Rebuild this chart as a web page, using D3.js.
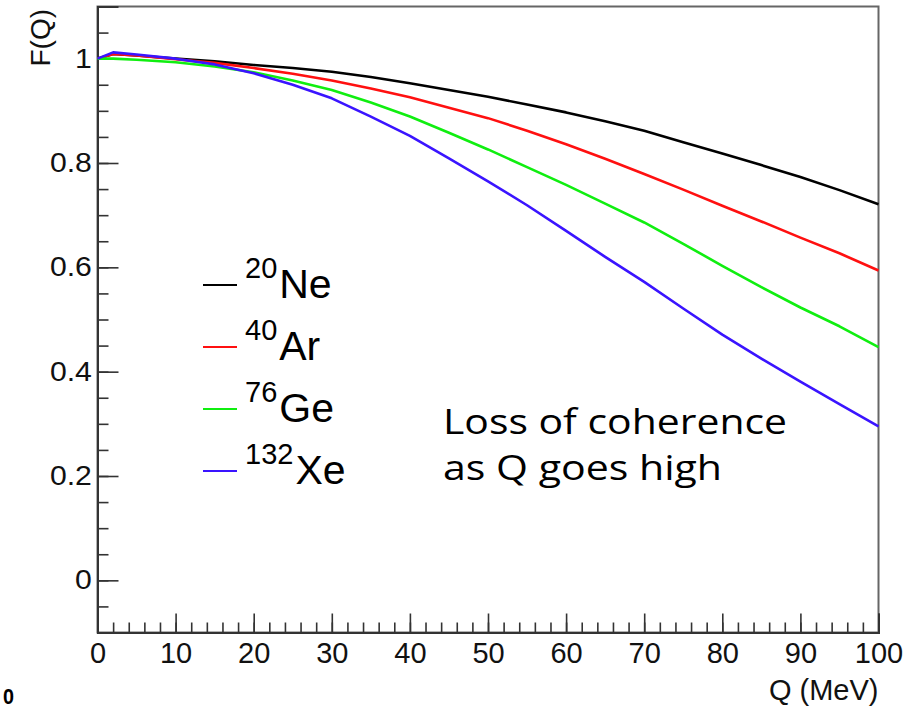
<!DOCTYPE html>
<html>
<head>
<meta charset="utf-8">
<script src="https://cdn.jsdelivr.net/npm/d3@7"></script>
<style>
  body { margin: 0; background: #fff; }
  svg { display: block; }
</style>
</head>
<body>
<div id="chart_div"></div>
<script>
// Form factor F(Q) vs momentum transfer Q
var qValues = [0, 2, 5, 10, 15, 20, 25, 30, 35, 40, 45, 50, 55, 60, 65, 70, 75, 80, 85, 90, 95, 100];
var neValues = [1.0, 1.009, 1.006, 1.0, 0.995, 0.988, 0.982, 0.975, 0.965, 0.953, 0.940, 0.927, 0.912, 0.897, 0.880, 0.862, 0.840, 0.818, 0.796, 0.773, 0.748, 0.721];
var arValues = [1.0, 1.009, 1.006, 0.999, 0.992, 0.982, 0.971, 0.958, 0.943, 0.926, 0.906, 0.886, 0.862, 0.836, 0.808, 0.779, 0.749, 0.718, 0.688, 0.657, 0.627, 0.594];
var geValues = [1.0, 1.0, 0.998, 0.993, 0.985, 0.974, 0.958, 0.940, 0.916, 0.889, 0.858, 0.826, 0.792, 0.758, 0.722, 0.686, 0.645, 0.603, 0.562, 0.523, 0.487, 0.447];
var xeValues = [1.0, 1.012, 1.008, 1.0, 0.989, 0.972, 0.950, 0.924, 0.889, 0.852, 0.809, 0.765, 0.719, 0.670, 0.620, 0.572, 0.521, 0.471, 0.425, 0.381, 0.338, 0.295];

var massNumbers = ["20", "40", "76", "132"];
var elements = ["Ne", "Ar", "Ge", "Xe"];
var colors = ["#000000", "#ff1010", "#10ee10", "#3a14ff"];

var xTicks = [0, 10, 20, 30, 40, 50, 60, 70, 80, 90, 100];
var yTicks = [0, 0.2, 0.4, 0.6, 0.8, 1];

var noteLines = ["Loss of coherence", "as Q goes high"];

var width = 924, height = 712;
var frame = {left: 97.5, right: 878.5, top: 6.5, bottom: 632.5};
const FONT = "'Liberation Sans', Arial, Helvetica, sans-serif";

var svg = d3.select("#chart_div").append("svg")
    .attr("width", width)
    .attr("height", height);

var x = d3.scaleLinear().domain([0, 100]).range([frame.left, frame.right]);
var y = d3.scaleLinear().domain([-0.1, 1.1]).range([frame.bottom, frame.top]);

// frame
svg.append("rect")
    .attr("x", frame.left)
    .attr("y", frame.top)
    .attr("width", frame.right - frame.left)
    .attr("height", frame.bottom - frame.top)
    .style("fill", "none")
    .style("stroke", "#666")
    .style("stroke-width", 2);

// minor ticks (ROOT style, pointing inward)
svg.append("g")
    .attr("transform", "translate(" + frame.left + ",0)")
    .call(d3.axisLeft(y).tickValues(d3.range(-0.05, 1.1, 0.05)).tickSize(-11).tickFormat(""))
    .call(g => g.select(".domain").remove())
    .selectAll("line").style("stroke", "#333").style("stroke-width", 1.6);

svg.append("g")
    .attr("transform", "translate(0," + frame.bottom + ")")
    .call(d3.axisBottom(x).tickValues(d3.range(2, 100, 2)).tickSize(-10).tickFormat(""))
    .call(g => g.select(".domain").remove())
    .selectAll("line").style("stroke", "#333").style("stroke-width", 1.6);

// major ticks + labels
var yAxis = svg.append("g")
    .attr("transform", "translate(" + frame.left + ",0)")
    .call(d3.axisLeft(y).tickValues(yTicks).tickSize(-21).tickPadding(5)
        .tickFormat(d => d === 0 || d === 1 ? d3.format("d")(d) : d3.format(".1f")(d)));
yAxis.select(".domain").style("stroke", "#333").style("stroke-width", 2);
yAxis.selectAll("line").style("stroke", "#333").style("stroke-width", 1.6);
yAxis.selectAll("text")
    .style("font-family", FONT)
    .style("font-size", "27px")
    .style("fill", "#111")
    .attr("transform", "scale(1.12,1)");

var xAxis = svg.append("g")
    .attr("transform", "translate(0," + frame.bottom + ")")
    .call(d3.axisBottom(x).tickValues(xTicks).tickSize(-19).tickPadding(10));
xAxis.select(".domain").style("stroke", "#333").style("stroke-width", 2);
xAxis.selectAll("line").style("stroke", "#333").style("stroke-width", 1.6);
xAxis.selectAll("text")
    .style("font-family", FONT)
    .style("font-size", "29px")
    .style("fill", "#111");

// axis titles
svg.append("text")
    .attr("x", frame.right)
    .attr("y", 700)
    .attr("text-anchor", "end")
    .style("font-family", FONT)
    .style("font-size", "29px")
    .style("fill", "#111")
    .text("Q (MeV)");

svg.append("g")
    .attr("transform", "translate(50,9)")
    .append("text")
    .attr("transform", "rotate(-90)")
    .attr("text-anchor", "end")
    .style("font-family", FONT)
    .style("font-size", "28px")
    .style("fill", "#111")
    .text("F(Q)");

// curves
var series = [neValues, arValues, geValues, xeValues];
var line = d3.line()
    .x((d, i) => x(qValues[i]))
    .y(d => y(d));

svg.append("g").selectAll("path")
    .data(series)
    .enter()
    .append("path")
    .attr("d", d => line(d))
    .style("fill", "none")
    .style("stroke", (d, i) => colors[i])
    .style("stroke-width", 2.6)
    .style("stroke-linejoin", "round");

// legend
var legend = svg.append("g").selectAll("g")
    .data(elements)
    .enter()
    .append("g")
    .attr("transform", (d, i) => "translate(0," + (298 + i * 62) + ")");

legend.append("line")
    .attr("x1", 203)
    .attr("x2", 237)
    .attr("y1", -13)
    .attr("y2", -13)
    .style("stroke", (d, i) => colors[i])
    .style("stroke-width", 2.2);

var legendText = legend.append("text")
    .attr("x", 245)
    .attr("y", 0)
    .style("font-family", FONT)
    .style("fill", "#000");
legendText.append("tspan")
    .attr("dy", -20)
    .style("font-size", "29px")
    .text((d, i) => massNumbers[i]);
legendText.append("tspan")
    .attr("dy", 20)
    .attr("dx", 2)
    .style("font-size", "41px")
    .text(d => d);

// annotation
svg.append("g").selectAll("text")
    .data(noteLines)
    .enter()
    .append("text")
    .attr("x", 443)
    .attr("y", (d, i) => 434 + i * 46)
    .attr("textLength", (d, i) => i === 0 ? 344 : 279)
    .attr("lengthAdjust", "spacingAndGlyphs")
    .style("font-family", "'Open Sans', sans-serif")
    .style("font-size", "34px")
    .style("fill", "#000")
    .text(d => d);

// stray slide number fragment at bottom-left
svg.append("text")
    .attr("x", 3)
    .attr("y", 704)
    .attr("textLength", 11)
    .attr("lengthAdjust", "spacingAndGlyphs")
    .style("font-family", FONT)
    .style("font-weight", "bold")
    .style("font-size", "22px")
    .style("fill", "#000")
    .text("0");
</script>
</body>
</html>
